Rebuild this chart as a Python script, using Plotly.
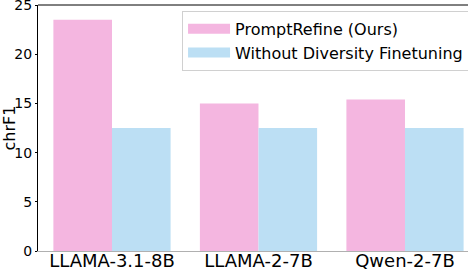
import plotly.graph_objects as go

categories = ["LLAMA-3.1-8B", "LLAMA-2-7B", "Qwen-2-7B"]
promptrefine = [23.5, 15.0, 15.4]
without_div = [12.5, 12.5, 12.5]
series_names = ["PromptRefine (Ours)", "Without Diversity Finetuning"]
colors = ["#F4B6E0", "#BCDFF4"]
yticks = [0, 5, 10, 15, 20, 25]

fig = go.Figure()
for name, vals, c in zip(series_names, [promptrefine, without_div], colors):
    fig.add_trace(go.Bar(x=categories, y=vals, name=name, marker=dict(color=c, line=dict(width=0)),
                         showlegend=False))
# legend proxies
for name, c in zip(series_names, colors):
    fig.add_trace(go.Scatter(x=[None], y=[None], mode="lines", name=name,
                             line=dict(color=c, width=11)))

fig.update_layout(
    width=468, height=270,
    margin=dict(l=38, r=0, t=5, b=19, autoexpand=False),
    paper_bgcolor="white", plot_bgcolor="white",
    font=dict(family="DejaVu Sans", color="black"),
    barmode="group", bargap=0.2, bargroupgap=0,
    legend=dict(x=0.335, y=0.976, xanchor="left", yanchor="top",
                bgcolor="rgba(255,255,255,0.8)", bordercolor="#d0d0d0", borderwidth=1,
                font=dict(size=16, family="DejaVu Sans"), itemwidth=42,
                tracegroupgap=0),
    xaxis=dict(range=[-0.505, 2.43], showline=True, linecolor="#b0b0b0", linewidth=1,
               ticks="", tickfont=dict(size=18), showgrid=False, zeroline=False,
               automargin=False, ticklabelstandoff=-7, ticklabeloverflow="allow"),
    yaxis=dict(range=[0, 25], tickvals=yticks, showline=True, linecolor="black", linewidth=1,
               ticks="outside", ticklen=2, tickcolor="black", tickfont=dict(size=14),
               showgrid=False, zeroline=False, automargin=False, ticklabeloverflow="allow",
               title=dict(text="chrF1", font=dict(size=16), standoff=4)),
    shapes=[dict(type="line", xref="paper", yref="paper", x0=0, x1=1, y0=1, y1=1,
                 line=dict(color="black", width=1))],
)
fig.write_html("out.html", config={"displayModeBar": False},
               post_script="document.body.style.margin='0';document.body.style.overflow='hidden';")
